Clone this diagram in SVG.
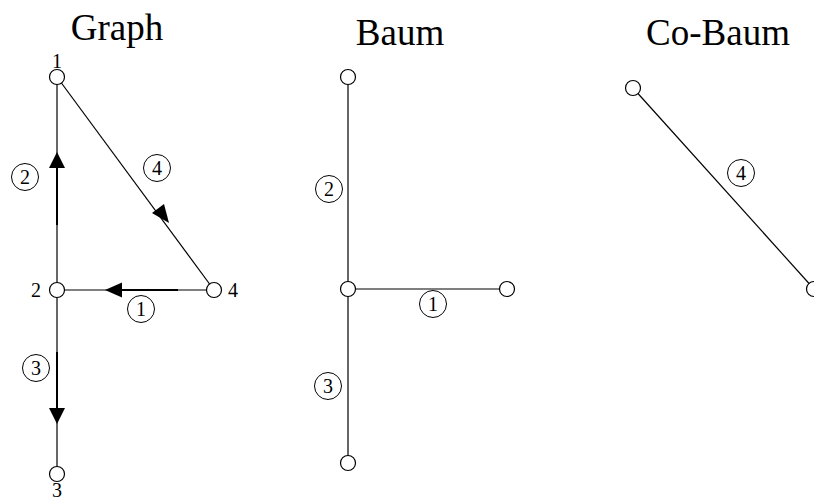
<svg xmlns="http://www.w3.org/2000/svg" width="814" height="501" viewBox="0 0 814 501">
<style>
.e{stroke:#000;stroke-width:1.2;fill:none}
.t{stroke:#000;stroke-width:2;fill:none}
.n{fill:#fff;stroke:#000;stroke-width:1.2}
.lc{fill:none;stroke:#000;stroke-width:1}
.title{font-family:'Liberation Serif','DejaVu Serif','Times New Roman',serif;font-size:37px;fill:#000;text-anchor:middle}
.d{font-family:'Liberation Serif','DejaVu Serif',serif;font-size:20px;fill:#000;text-anchor:middle;dominant-baseline:central}
.a{fill:#000}
</style>
<rect width="814" height="501" fill="#fff"/>
<text class="title" x="117" y="40">Graph</text>
<text class="title" x="400" y="45">Baum</text>
<text class="title" x="718" y="45">Co-Baum</text>
<g id="connectors">
<line class="e" x1="57" y1="77" x2="57" y2="290"/>
<line class="t" x1="57" y1="167" x2="57" y2="225"/>
<polygon class="a" points="57,152 49,168 65,168"/>
<line class="e" x1="57" y1="77" x2="214" y2="290"/>
<polygon class="a" points="169,223 152,213 164,204"/>
<line class="e" x1="57" y1="290" x2="214" y2="290"/>
<line class="t" x1="121" y1="290" x2="178" y2="290"/>
<polygon class="a" points="105,290 122,282.5 122,297.5"/>
<line class="e" x1="57" y1="290" x2="57" y2="474"/>
<line class="t" x1="57" y1="352" x2="57" y2="410"/>
<polygon class="a" points="57,424 49,408 65,408"/>
<line class="e" x1="348" y1="77" x2="348" y2="463"/>
<line class="e" x1="348" y1="289" x2="507" y2="289"/>
<line class="e" x1="633" y1="88" x2="814" y2="289"/>
</g>
<g id="labels">
<circle class="lc" cx="25" cy="177" r="13.5"/><text class="d" x="25" y="177">2</text>
<circle class="lc" cx="157" cy="168" r="13.5"/><text class="d" x="157" y="168">4</text>
<circle class="lc" cx="141" cy="309" r="13.5"/><text class="d" x="141" y="309">1</text>
<circle class="lc" cx="36" cy="368" r="13.5"/><text class="d" x="36" y="368">3</text>
<circle class="lc" cx="329" cy="189" r="13.5"/><text class="d" x="329" y="189">2</text>
<circle class="lc" cx="433" cy="304" r="13.5"/><text class="d" x="433" y="304">1</text>
<circle class="lc" cx="328" cy="386" r="13.5"/><text class="d" x="328" y="386">3</text>
<circle class="lc" cx="741" cy="173" r="13.5"/><text class="d" x="741" y="173">4</text>
</g>
<g id="g1"><circle class="n" cx="57" cy="77" r="7.5"/><text class="d" x="57" y="61">1</text></g>
<g id="g2"><circle class="n" cx="57" cy="290" r="7.5"/><text class="d" x="36" y="290">2</text></g>
<g id="g3"><circle class="n" cx="57" cy="474" r="7.5"/><text class="d" x="57" y="490">3</text></g>
<g id="g4"><circle class="n" cx="214" cy="290" r="7.5"/><text class="d" x="233" y="290">4</text></g>
<g id="b1"><circle class="n" cx="348" cy="77" r="7.5"/></g>
<g id="b2"><circle class="n" cx="348" cy="289" r="7.5"/></g>
<g id="b3"><circle class="n" cx="507" cy="289" r="7.5"/></g>
<g id="b4"><circle class="n" cx="348" cy="463" r="7.5"/></g>
<g id="c1"><circle class="n" cx="633" cy="88" r="7.5"/></g>
<g id="c2"><circle class="n" cx="814" cy="289" r="7.5"/></g>
</svg>
